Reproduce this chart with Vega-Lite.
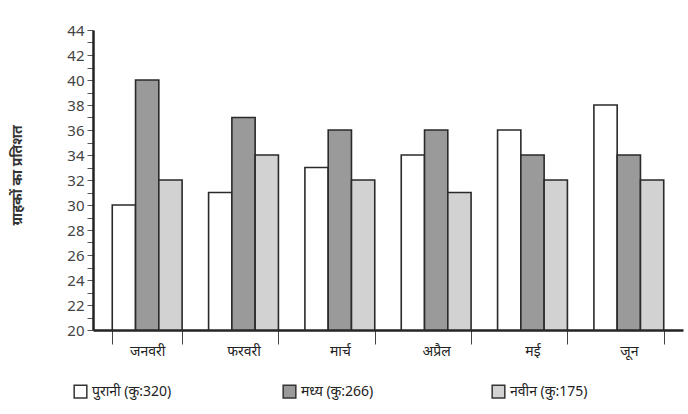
{
  "$schema": "https://vega.github.io/schema/vega-lite/v6.json",
  "width": 590,
  "height": 300,
  "autosize": {"type": "none"},
  "padding": {"left": 93, "right": 5, "top": 30, "bottom": 84},
  "background": "white",
  "config": {
    "view": {"stroke": null},
    "font": "Noto Sans",
    "axis": {"labelFont": "Noto Sans", "titleFont": "Noto Sans"},
    "legend": {"labelFont": "Noto Sans"}
  },
  "data": {
    "values": [
      {"month": "जनवरी", "series": "पुरानी (कु:320)", "value": 30},
      {"month": "जनवरी", "series": "मध्य (कु:266)", "value": 40},
      {"month": "जनवरी", "series": "नवीन (कु:175)", "value": 32},
      {"month": "फरवरी", "series": "पुरानी (कु:320)", "value": 31},
      {"month": "फरवरी", "series": "मध्य (कु:266)", "value": 37},
      {"month": "फरवरी", "series": "नवीन (कु:175)", "value": 34},
      {"month": "मार्च", "series": "पुरानी (कु:320)", "value": 33},
      {"month": "मार्च", "series": "मध्य (कु:266)", "value": 36},
      {"month": "मार्च", "series": "नवीन (कु:175)", "value": 32},
      {"month": "अप्रैल", "series": "पुरानी (कु:320)", "value": 34},
      {"month": "अप्रैल", "series": "मध्य (कु:266)", "value": 36},
      {"month": "अप्रैल", "series": "नवीन (कु:175)", "value": 31},
      {"month": "मई", "series": "पुरानी (कु:320)", "value": 36},
      {"month": "मई", "series": "मध्य (कु:266)", "value": 34},
      {"month": "मई", "series": "नवीन (कु:175)", "value": 32},
      {"month": "जून", "series": "पुरानी (कु:320)", "value": 38},
      {"month": "जून", "series": "मध्य (कु:266)", "value": 34},
      {"month": "जून", "series": "नवीन (कु:175)", "value": 32}
    ]
  },
  "mark": {"type": "bar", "stroke": "#2a2a2a", "strokeWidth": 1.6},
  "encoding": {
    "x": {
      "field": "month", "type": "nominal", "sort": null,
      "scale": {"paddingInner": 0.275, "paddingOuter": 0.2},
      "axis": {"title": null, "labelAngle": 0, "labelFontSize": 14, "labelColor": "#222", "domainColor": "#222", "domainWidth": 2.5, "tickColor": "#444", "tickBand": "extent", "tickSize": 14, "labelPadding": 0}
    },
    "xOffset": {"field": "series", "type": "nominal", "sort": null},
    "y": {
      "field": "value", "type": "quantitative",
      "scale": {"domain": [20, 44], "nice": false, "zero": false},
      "axis": {"title": "ग्राहकों का प्रतिशत", "titleFontSize": 14, "titleColor": "#333", "titlePadding": 42, "titleY": 145, "values": [20,21,22,23,24,25,26,27,28,29,30,31,32,33,34,35,36,37,38,39,40,41,42,43,44], "labelExpr": "datum.value % 2 == 0 ? datum.label : ''", "labelFontSize": 15, "labelColor": "#444", "labelPadding": 3, "domainColor": "#222", "domainWidth": 2.5, "tickColor": "#555", "tickSize": 6, "grid": false}
    },
    "y2": {"datum": 20},
    "fill": {
      "field": "series", "type": "nominal", "sort": null,
      "scale": {"range": ["#ffffff", "#9a9a9a", "#d2d2d2"]},
      "legend": {"title": null, "orient": "none", "legendX": -20, "legendY": 354, "direction": "horizontal", "columns": 3, "gridAlign": "all", "labelFontSize": 14, "labelColor": "#222", "symbolType": "square", "symbolSize": 160, "symbolStrokeColor": "#333", "symbolStrokeWidth": 1.5, "columnPadding": 108}
    }
  }
}
